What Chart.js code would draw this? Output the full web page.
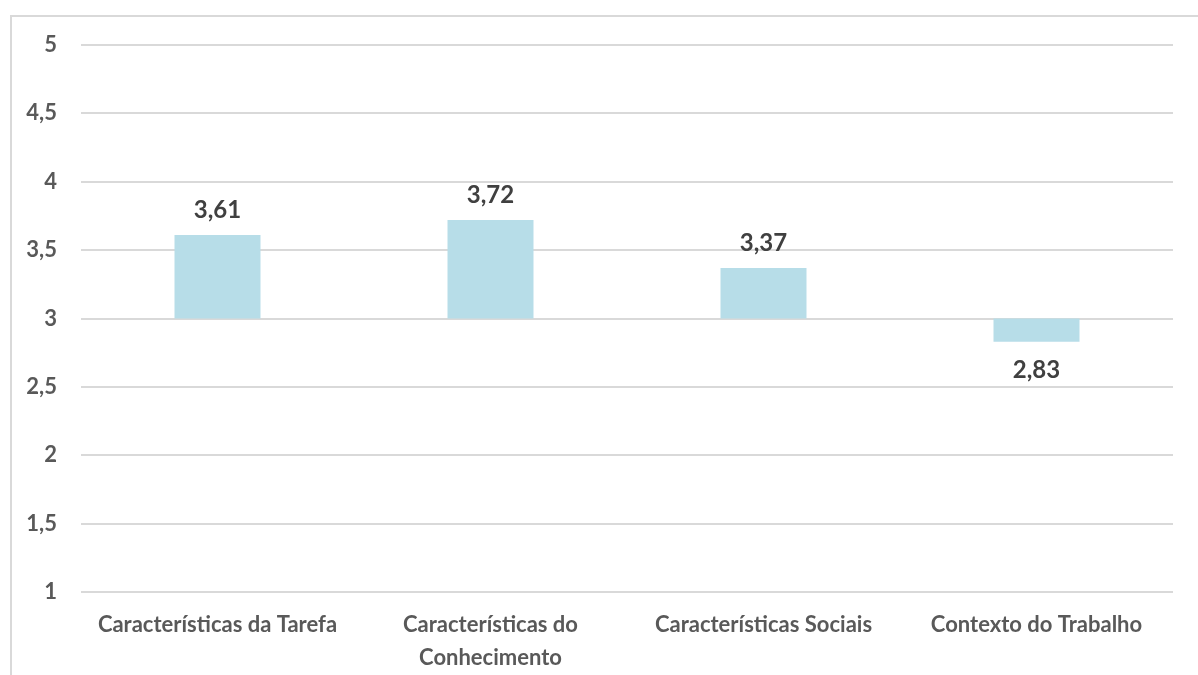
<!DOCTYPE html>
<html>
<head>
<meta charset="utf-8">
<script src="https://cdn.jsdelivr.net/npm/chart.js@4"></script>
<style>
  html, body { margin: 0; padding: 0; background: #ffffff; }
  #wrap { position: relative; width: 1198px; height: 675px; overflow: hidden; }
  #frame { position: absolute; left: 10px; top: 15px; width: 1200px; height: 700px;
           border-left: 2px solid #d9d9d9; border-top: 2px solid #d9d9d9; box-sizing: border-box; }
  canvas { position: absolute; left: 0; top: 0; }
</style>
</head>
<body>
<div id="wrap">
  <div id="frame"></div>
  <canvas id="chart" width="1198" height="675"></canvas>
</div>
<script>
// bars rise or drop from the scale midpoint
const categories = [
  ["Características da Tarefa"],
  ["Características do", "Conhecimento"],
  ["Características Sociais"],
  ["Contexto do Trabalho"]
];
const baseline = 3;
const scores = [3.61, 3.72, 3.37, 2.83];
const yTicks = [1, 1.5, 2, 2.5, 3, 3.5, 4, 4.5, 5];

const fmt = v => String(v).replace('.', ',');

// value labels above (or below) each bar
const valueLabels = {
  id: 'valueLabels',
  afterDatasetsDraw(chart) {
    const ctx = chart.ctx;
    const meta = chart.getDatasetMeta(0);
    ctx.save();
    ctx.font = 'bold 24px Lato';
    ctx.fillStyle = '#404040';
    ctx.textAlign = 'center';
    ctx.textBaseline = 'middle';
    meta.data.forEach((bar, i) => {
      const v = scores[i];
      const top = Math.min(bar.y, bar.base);
      const bottom = Math.max(bar.y, bar.base);
      const y = v >= baseline ? top - 25 : bottom + 29;
      ctx.fillText(v.toFixed(2).replace('.', ','), bar.x, y);
    });
    ctx.restore();
  }
};

new Chart(document.getElementById('chart'), {
  type: 'bar',
  data: {
    labels: categories,
    datasets: [{
      data: scores.map(v => [baseline, v]),
      backgroundColor: '#b7dde8',
      borderWidth: 0,
      barPercentage: 1,
      categoryPercentage: 0.315
    }]
  },
  options: {
    responsive: false,
    animation: false,
    devicePixelRatio: 1,
    layout: { padding: { top: 45, right: 25, left: 0, bottom: 0 } },
    plugins: { legend: { display: false }, tooltip: { enabled: false } },
    scales: {
      x: {
        grid: { display: false },
        border: { display: false },
        ticks: {
          color: '#595959',
          font: { family: 'Lato', size: 22, weight: 'bold', lineHeight: 1.5 },
          padding: 8,
          maxRotation: 0,
          autoSkip: false
        },
        afterFit(scale) { scale.height = 83; }
      },
      y: {
        min: 1,
        max: 5,
        afterBuildTicks(scale) { scale.ticks = yTicks.map(v => ({ value: v })); },
        grid: { color: '#d9d9d9', lineWidth: 2, drawTicks: false },
        border: { display: false },
        ticks: {
          color: '#595959',
          font: { family: 'Lato', size: 22, weight: 'bold' },
          padding: 24,
          callback: v => fmt(v)
        },
        afterFit(scale) { scale.width = 81; }
      }
    }
  },
  plugins: [valueLabels]
});
</script>
</body>
</html>
